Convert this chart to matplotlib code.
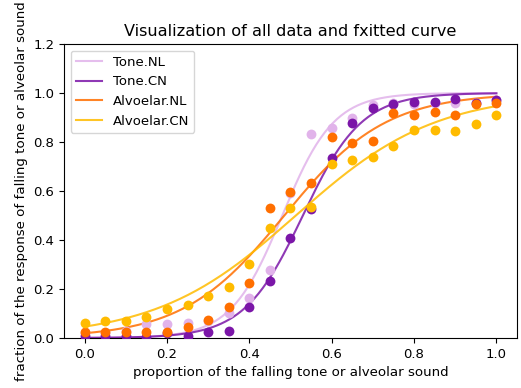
import numpy as np
import matplotlib
matplotlib.use("Agg")
import matplotlib.pyplot as plt

# stimulus steps
x = [0.0, 0.05, 0.1, 0.15, 0.2, 0.25, 0.3, 0.35, 0.4, 0.45, 0.5,
     0.55, 0.6, 0.65, 0.7, 0.75, 0.8, 0.85, 0.9, 0.95, 1.0]

tone_nl = [0.02, 0.02, 0.03, 0.057, 0.057, 0.06, 0.07, 0.10, 0.165, 0.278, 0.59,
           0.831, 0.858, 0.899, 0.95, 0.96, 0.955, 0.96, 0.96, 0.96, 0.97]
tone_cn = [0.01, 0.01, 0.01, 0.005, 0.02, 0.01, 0.023, 0.03, 0.125, 0.234, 0.407,
           0.525, 0.736, 0.879, 0.937, 0.954, 0.965, 0.965, 0.974, 0.958, 0.971]
alv_nl = [0.026, 0.024, 0.024, 0.024, 0.025, 0.044, 0.073, 0.125, 0.223, 0.53, 0.597,
          0.634, 0.82, 0.795, 0.804, 0.917, 0.91, 0.924, 0.91, 0.954, 0.958]
alv_cn = [0.06, 0.07, 0.07, 0.087, 0.12, 0.135, 0.17, 0.21, 0.30, 0.45, 0.53,
          0.536, 0.709, 0.727, 0.738, 0.784, 0.849, 0.849, 0.845, 0.872, 0.91]

labels = ['Tone.NL', 'Tone.CN', 'Alvoelar.NL', 'Alvoelar.CN']
# fitted logistic parameters (slope k, midpoint x0)
fit_k = [16.0, 14.0, 8.1, 5.9]
fit_x0 = [0.48, 0.53, 0.485, 0.513]

colors = ['#e1b3ea', '#7b16a8', '#ff6f00', '#ffbb00']


def logistic(xx, k, x0):
    return 1.0 / (1.0 + np.exp(-k * (xx - x0)))


fig = plt.figure(figsize=(5.21, 3.88), dpi=100)
ax = fig.add_axes([0.1228, 0.1289, 0.8695, 0.7577])

xs = np.linspace(0, 1, 200)
ys_all = [tone_nl, tone_cn, alv_nl, alv_cn]
for i, label in enumerate(labels):
    ax.plot(xs, logistic(xs, fit_k[i], fit_x0[i]), color=colors[i], lw=1.5,
            alpha=0.85, label=label)
for i, label in enumerate(labels):
    ax.scatter(x, ys_all[i], color=colors[i], s=50, zorder=3, linewidths=0)

ax.set_ylim(0, 1.2)
ax.set_xlim(-0.05, 1.05)
ax.set_xticks([0.0, 0.2, 0.4, 0.6, 0.8, 1.0])
ax.set_yticks([0.0, 0.2, 0.4, 0.6, 0.8, 1.0, 1.2])
ax.tick_params(labelsize=9.5)
ax.set_title("Visualization of all data and fxitted curve", fontsize=11.6)
ax.set_xlabel("proportion of the falling tone or alveolar sound", fontsize=9.6)
ax.set_ylabel("fraction of the response of falling tone or alveolar sound", fontsize=9.6)
ax.legend(loc='upper left', fontsize=9.5)

plt.savefig("out.png", dpi=100)
